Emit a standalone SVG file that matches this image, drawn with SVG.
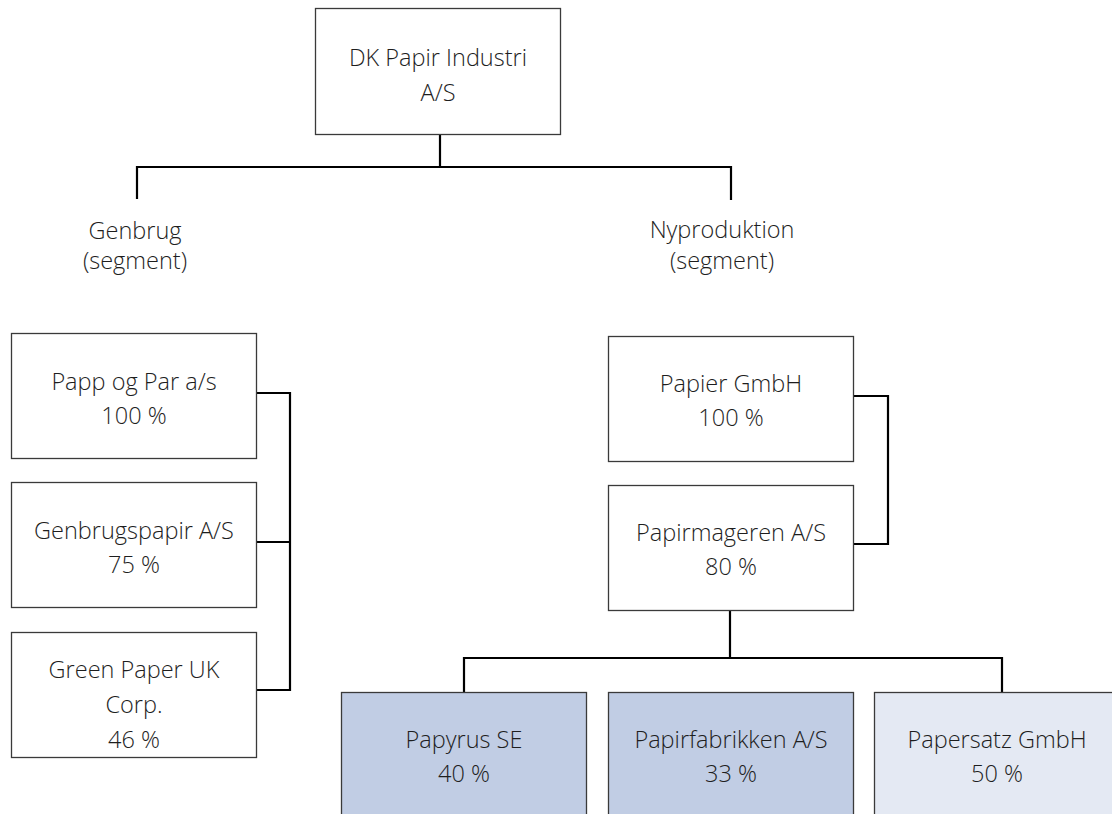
<svg xmlns="http://www.w3.org/2000/svg" width="1112" height="814" viewBox="0 0 1112 814">
<style>
.box{stroke:#3a3a3a;stroke-width:1.3;fill:#ffffff}
.dark{fill:#c1cde4}
.light{fill:#e4e9f3}
.conn{stroke:#000;stroke-width:2.2;fill:none}
text{font-family:"Open Sans","Liberation Sans",sans-serif;font-weight:300;font-size:23.5px;fill:#1e1e1e;text-anchor:middle}
</style>
<rect width="1112" height="814" fill="#ffffff"/>
<g id="connectors">
<path class="conn" d="M440,134 V167 M137,199 V167 H731 V200"/>
<path class="conn" d="M256,393 H290 V690 H256 M256,542 H290"/>
<path class="conn" d="M853,396 H888 V544 H853"/>
<path class="conn" d="M730,610 V658 M464,692 V658 H1002 V692"/>
</g>
<g id="n-dk">
<rect class="box" x="315.5" y="8.5" width="245" height="126"/>
<text x="438" y="66">DK Papir Industri</text>
<text x="438" y="101">A/S</text>
</g>
<g id="n-genbrug">
<text x="135" y="239">Genbrug</text>
<text x="135" y="269">(segment)</text>
</g>
<g id="n-nyproduktion">
<text x="722" y="238">Nyproduktion</text>
<text x="722" y="269">(segment)</text>
</g>
<g id="n-papp">
<rect class="box" x="11.5" y="333.5" width="245" height="125"/>
<text x="134" y="390">Papp og Par a/s</text>
<text x="134" y="424">100 %</text>
</g>
<g id="n-genbrugspapir">
<rect class="box" x="11.5" y="482.5" width="245" height="125"/>
<text x="134" y="539">Genbrugspapir A/S</text>
<text x="134" y="573">75 %</text>
</g>
<g id="n-green">
<rect class="box" x="11.5" y="632.5" width="245" height="125"/>
<text x="134" y="678">Green Paper UK</text>
<text x="134" y="713">Corp.</text>
<text x="134" y="748">46 %</text>
</g>
<g id="n-papier">
<rect class="box" x="608.5" y="336.5" width="245" height="125"/>
<text x="731" y="392">Papier GmbH</text>
<text x="731" y="426">100 %</text>
</g>
<g id="n-papirmageren">
<rect class="box" x="608.5" y="485.5" width="245" height="125"/>
<text x="731" y="541">Papirmageren A/S</text>
<text x="731" y="575">80 %</text>
</g>
<g id="n-papyrus">
<rect class="box dark" x="341.5" y="692.5" width="245" height="140"/>
<text x="464" y="748">Papyrus SE</text>
<text x="464" y="782">40 %</text>
</g>
<g id="n-papirfabrikken">
<rect class="box dark" x="608.5" y="692.5" width="245" height="140"/>
<text x="731" y="748">Papirfabrikken A/S</text>
<text x="731" y="782">33 %</text>
</g>
<g id="n-papersatz">
<rect class="box light" x="874.5" y="692.5" width="245" height="140"/>
<text x="997" y="748">Papersatz GmbH</text>
<text x="997" y="782">50 %</text>
</g>
</svg>
